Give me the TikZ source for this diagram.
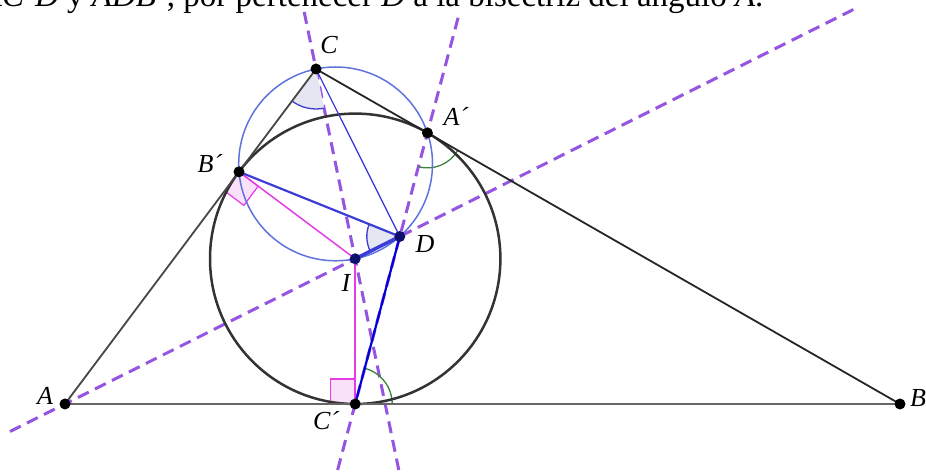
\documentclass[tikz,border=0pt]{standalone}
\usepackage{fontspec}
\setmainfont{Liberation Serif}
\definecolor{bisec}{RGB}{150,85,225}
\definecolor{ltblue}{RGB}{95,115,220}
\definecolor{segblue}{RGB}{60,60,215}
\definecolor{magen}{RGB}{230,60,230}
\definecolor{darkgr}{RGB}{70,70,70}
\definecolor{angfill}{RGB}{228,230,242}
\definecolor{angreen}{RGB}{60,130,60}
\definecolor{navyd}{RGB}{15,15,110}
\definecolor{pinkfill}{RGB}{250,225,250}

\begin{document}
\begin{tikzpicture}[x=1pt,y=1pt,
    pt/.style={circle,fill=black,inner sep=0pt,minimum size=11pt},
    ptb/.style={pt,fill=navyd},
    lbl/.style={font=\fontsize{26}{30}\selectfont\itshape},
    bis/.style={bisec,line width=3pt,dash pattern=on 12pt off 7pt},
    tri/.style={darkgr,line width=1.8pt},
    rmark/.style={magen,line width=1.2pt,fill=pinkfill}]
    \useasboundingbox (0,0) rectangle (926,473);
    \clip (0,0) rectangle (926,473);

    % points of the figure
    \coordinate (A) at (65,69);
    \coordinate (B) at (900,69);
    \coordinate (C) at (316,404);
    \coordinate (I) at (355.2,214.2);
    \coordinate (Ap) at (427.4,340.1);
    \coordinate (Bp) at (239,301.2);
    \coordinate (Cp) at (355.2,69);
    \coordinate (D) at (399.8,236.5);
    \coordinate (O) at (335.6,309.1);

    % free ends of the dashed lines
    \coordinate (bA1) at (10,41.5);
    \coordinate (bA2) at (854,463.8);
    \coordinate (bD1) at (337.6,3);
    \coordinate (bD2) at (458.3,456);
    \coordinate (bC1) at (304.2,461);
    \coordinate (bC2) at (398.8,3);

    \node[anchor=base east,font=\fontsize{33}{38}\selectfont] (txt) at (767,466.5)
        {\textit{AC´D} y \textit{ADB´}, por pertenecer \textit{D} a la bisectriz del ángulo \textit{A}.};

    \draw[bis] (bA1) -- (bA2);
    \draw[bis] (bD1) -- (bD2);
    \draw[bis] (bC1) -- (bC2);

    % angles
    \filldraw[fill=angfill,draw=none] (C) -- ++(233.2:40) arc[start angle=233.2,end angle=281.7,radius=40] -- cycle;
    \draw[segblue,line width=1.3pt] (C) ++(233.2:40) arc[start angle=233.2,end angle=281.7,radius=40];
    \filldraw[fill=angfill,draw=none] (D) -- ++(158.1:33) arc[start angle=158.1,end angle=206.6,radius=33] -- cycle;
    \draw[segblue,line width=1.3pt] (D) ++(158.1:33) arc[start angle=158.1,end angle=206.6,radius=33];
    \draw[angreen,line width=1.3pt] (Ap) ++(255.1:35) arc[start angle=255.1,end angle=330.2,radius=35];
    \draw[angreen,line width=1.3pt] (Cp) ++(0:37) arc[start angle=0,end angle=75.1,radius=37];
    \filldraw[rmark,shift={(Bp)},rotate=-36.8] (0,0) rectangle (24,-24);
    \filldraw[rmark] (Cp) rectangle ++(-25,25);

    \draw[ltblue,line width=1.5pt] (O) circle[radius=96.9];
    \draw[black!80,line width=2.5pt] (I) circle[radius=145.2];

    \path (A) edge[tri,line width=2.3pt,black!60] (B)
        (A) edge[tri] (C)
        (C) edge[tri,black!85] (B)
        (Bp) edge[magen,line width=1.5pt] (I)
        (I) edge[magen,line width=1.5pt] (Cp)
        (C) edge[segblue,line width=1.3pt] (D)
        (Bp) edge[segblue,line width=2.2pt] (D)
        (D) edge[segblue,line width=3.5pt] (I)
        (D) edge[blue!85!black,line width=2.2pt] (Cp);

    \node[pt] (dA) at (A) {};
    \node[pt] (dB) at (B) {};
    \node[pt] (dC) at (C) {};
    \node[pt] (dAp) at (Ap) {};
    \node[pt] (dBp) at (Bp) {};
    \node[pt] (dCp) at (Cp) {};
    \node[ptb] (dD) at (D) {};
    \node[ptb] (dI) at (I) {};

    \node[lbl] (lA) at (45,77) {A};
    \node[lbl] (lB) at (918,75) {B};
    \node[lbl] (lC) at (329,428) {C};
    \node[lbl] (lAp) at (456,357) {A´};
    \node[lbl] (lBp) at (210,309) {B´};
    \node[lbl] (lCp) at (326,52) {C´};
    \node[lbl] (lD) at (425,229) {D};
    \node[lbl] (lI) at (346,190) {I};
\end{tikzpicture}
\end{document}
